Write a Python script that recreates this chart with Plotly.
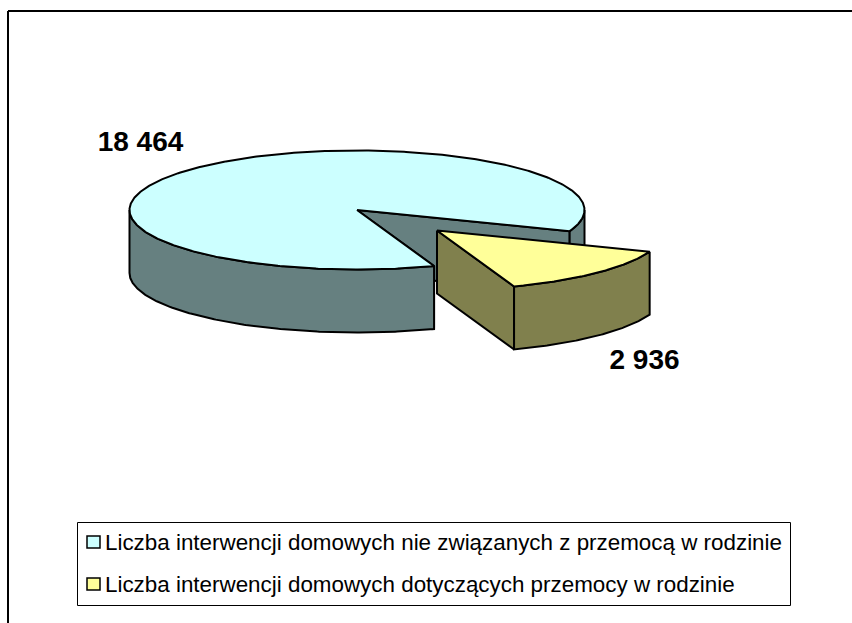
import numpy as np
import plotly.graph_objects as go

# Data
categories = ["Liczba interwencji domowych nie związanych z przemocą w rodzinie",
              "Liczba interwencji domowych dotyczących przemocy w rodzinie"]
values = [18464, 2936]
top_colors = ["#CCFFFF", "#FFFF99"]
wall_colors = ["#668080", "#80804D"]

# Projection of the pie (style only)
CX, CY, RX, RY, DEPTH = 357.0, 210.0, 227.5, 59.5, 63.0
START = 70.2          # degrees clockwise from +x where the first slice begins
PULL = (80.0, 20.5)
W, H = 852, 623
LW = 2

sweep = [v / sum(values) * 360 for v in values]
a0, a1 = START, START + sweep[0]      # large slice
b0, b1 = a1, a1 + sweep[1]            # pulled slice


def arc(t0, t1, dx=0.0, dy=0.0, drop=0.0):
    t = np.radians(np.linspace(t0, t1, max(3, int(abs(t1 - t0)) * 2)))
    return CX + dx + RX * np.cos(t), CY + dy + drop + RY * np.sin(t)


def add_poly(fig, x, y, color):
    x = list(x) + [x[0]]
    y = list(y) + [y[0]]
    fig.add_trace(go.Scatter(x=x, y=y, mode="lines", fill="toself", fillcolor=color,
                             line=dict(color="black", width=LW), hoverinfo="skip", showlegend=False))


def wall(fig, t0, t1, color, dx=0.0, dy=0.0):
    x1, y1 = arc(t0, t1, dx, dy)
    x2, y2 = arc(t0, t1, dx, dy, DEPTH)
    add_poly(fig, np.r_[x1, x2[::-1]], np.r_[y1, y2[::-1]], color)


def face(fig, t, color, dx=0.0, dy=0.0):
    x, y = arc(t, t, dx, dy)
    px, py = x[0], y[0]
    ox, oy = CX + dx, CY + dy
    add_poly(fig, [ox, px, px, ox], [oy, py, py + DEPTH, oy + DEPTH], color)


def top(fig, t0, t1, color, dx=0.0, dy=0.0):
    x, y = arc(t0, t1, dx, dy)
    add_poly(fig, np.r_[CX + dx, x], np.r_[CY + dy, y], color)


fig = go.Figure()

# Large slice: cut faces, outer walls, top
face(fig, a1 - 360, wall_colors[0])
face(fig, a0, wall_colors[0])
wall(fig, a0, 180, wall_colors[0])
wall(fig, 0, a1 - 360, wall_colors[0])
top(fig, a0, a1, top_colors[0])

# Pulled slice
b0n, b1n = b0 - 360, b1 - 360
face(fig, b1n, wall_colors[1], *PULL)
wall(fig, b0n, b1n, wall_colors[1], *PULL)
top(fig, b0n, b1n, top_colors[1], *PULL)

# Value labels
labels = [f"{v:,}".replace(",", " ") for v in values]
fig.add_trace(go.Scatter(x=[140.5, 644.5], y=[144, 361.5], mode="text", text=labels,
                         textposition="middle center", hoverinfo="skip", showlegend=False,
                         textfont=dict(family="Liberation Sans", size=28, color="black",
                                       weight="bold")))

shapes = [
    dict(type="line", x0=8, x1=8, y0=11, y1=H, line=dict(color="black", width=2)),
    dict(type="line", x0=8, x1=W, y0=11, y1=11, line=dict(color="black", width=2)),
    dict(type="rect", x0=77.5, x1=790.5, y0=522.5, y1=605.5, line=dict(color="black", width=1),
         fillcolor="white"),
]
annotations = []
for cat, col, yy in zip(categories, top_colors, [542, 584]):
    shapes.append(dict(type="rect", x0=87, x1=100, y0=yy - 6, y1=yy + 6, fillcolor=col,
                       line=dict(color="black", width=1.5)))
    annotations.append(dict(x=105, y=yy, xref="x", yref="y", text=cat, showarrow=False,
                            xanchor="left", yanchor="middle", xshift=-2,
                            font=dict(family="Liberation Sans", size=22.4, color="black")))

fig.update_layout(
    width=W, height=H, autosize=False, margin=dict(l=0, r=0, t=0, b=0),
    paper_bgcolor="white", plot_bgcolor="white", showlegend=False,
    xaxis=dict(range=[0, W], visible=False, fixedrange=True),
    yaxis=dict(range=[H, 0], visible=False, fixedrange=True),
    shapes=shapes, annotations=annotations,
)
fig.write_html("out.html", config=dict(displayModeBar=False),
               post_script="document.body.style.margin='0';document.body.style.overflow='hidden';")
